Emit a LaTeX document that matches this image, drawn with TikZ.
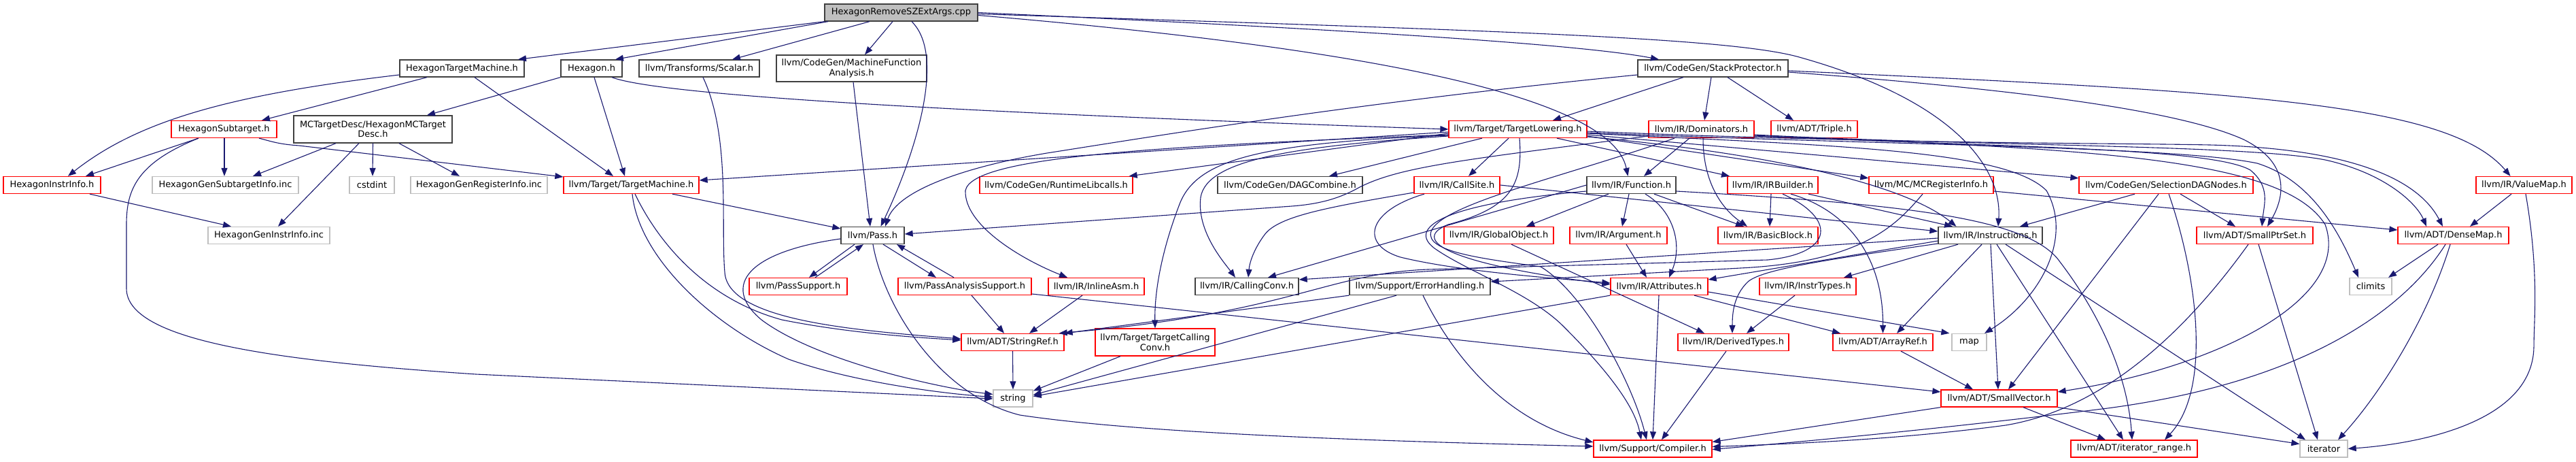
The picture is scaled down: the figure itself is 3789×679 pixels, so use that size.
\documentclass[tikz,border=0pt]{standalone}
\usepackage{fontspec}
\setmainfont{DejaVu Sans}
\usetikzlibrary{arrows.meta}
\definecolor{edgec}{HTML}{191970}
\definecolor{bordk}{HTML}{404040}
\definecolor{bordg}{HTML}{BFBFBF}
\definecolor{rootf}{HTML}{BFBFBF}
\tikzset{
  box/.style={rectangle, inner sep=0pt, line width=1.3pt, align=center,
    font=\fontsize{13}{14.5}\selectfont, minimum height=25},
  rbox/.style={box, draw=red},
  kbox/.style={box, draw=bordk},
  gbox/.style={box, draw=bordg},
  rootbox/.style={box, draw=bordk, fill=rootf},
  e/.style={draw=edgec, line width=1.1pt, -{Triangle[length=12pt,width=9pt]}}
}
\begin{document}
\begin{tikzpicture}[x=1pt,y=-1pt]
\useasboundingbox (0,0) rectangle (3789,679);
\fill[white] (0,0) rectangle (3789,679);
% row 0
\node[rootbox, minimum width=225] (root) at (1325.5,18.5) {HexagonRemoveSZExtArgs.cpp};
% row 1
\node[kbox, minimum width=183] (htm) at (679.5,100.5) {HexagonTargetMachine.h};
\node[kbox, minimum width=90] (hex) at (870,100.5) {Hexagon.h};
\node[kbox, minimum width=177] (scalar) at (1028.5,100.5) {llvm/Transforms/Scalar.h};
\node[kbox, minimum width=221, minimum height=39] (mfa) at (1252.5,100.5) {llvm/CodeGen/MachineFunction\\Analysis.h};
\node[kbox, minimum width=221] (stackp) at (2519.5,100.5) {llvm/CodeGen/StackProtector.h};
% row 2
\node[rbox, minimum width=155] (subt) at (329.5,190) {HexagonSubtarget.h};
\node[kbox, minimum width=233, minimum height=40] (mctd) at (548.5,190) {MCTargetDesc/HexagonMCTarget\\Desc.h};
\node[rbox, minimum width=203] (tl) at (2232.5,190) {llvm/Target/TargetLowering.h};
\node[rbox, minimum width=155] (dom) at (2502.5,190) {llvm/IR/Dominators.h};
\node[rbox, minimum width=127] (triple) at (2668.5,190) {llvm/ADT/Triple.h};
% row 3
\node[rbox, minimum width=143] (instrinfo) at (76.5,272) {HexagonInstrInfo.h};
\node[gbox, minimum width=215] (gensub) at (331.5,272) {HexagonGenSubtargetInfo.inc};
\node[gbox, minimum width=66] (cstdint) at (547,272) {cstdint};
\node[gbox, minimum width=201] (genreg) at (704.5,272) {HexagonGenRegisterInfo.inc};
\node[rbox, minimum width=199] (tm) at (928.5,272) {llvm/Target/TargetMachine.h};
\node[rbox, minimum width=225] (rtlib) at (1553.5,272) {llvm/CodeGen/RuntimeLibcalls.h};
\node[kbox, minimum width=213] (dag) at (1897.5,272) {llvm/CodeGen/DAGCombine.h};
\node[rbox, minimum width=126] (callsite) at (2143,272) {llvm/IR/CallSite.h};
\node[kbox, minimum width=131] (func) at (2399.5,272) {llvm/IR/Function.h};
\node[rbox, minimum width=133] (irb) at (2607.5,272) {llvm/IR/IRBuilder.h};
\node[rbox, minimum width=183] (mcreg) at (2840.5,272) {llvm/MC/MCRegisterInfo.h};
\node[rbox, minimum width=256] (sdn) at (3186,272) {llvm/CodeGen/SelectionDAGNodes.h};
\node[rbox, minimum width=141] (valuemap) at (3712.5,272) {llvm/IR/ValueMap.h};
% row 4
\node[gbox, minimum width=179] (geninstr) at (395.5,346) {HexagonGenInstrInfo.inc};
\node[kbox, minimum width=93] (pass) at (1283.5,346) {llvm/Pass.h};
\node[rbox, minimum width=161] (globobj) at (2204.5,346) {llvm/IR/GlobalObject.h};
\node[rbox, minimum width=143] (arg) at (2380.5,346) {llvm/IR/Argument.h};
\node[rbox, minimum width=147] (bb) at (2600.5,346) {llvm/IR/BasicBlock.h};
\node[kbox, minimum width=153] (instr) at (2927.5,346) {llvm/IR/Instructions.h};
\node[rbox, minimum width=171] (sptr) at (3316.5,346) {llvm/ADT/SmallPtrSet.h};
\node[rbox, minimum width=163] (dmap) at (3608.5,346) {llvm/ADT/DenseMap.h};
% row 5
\node[rbox, minimum width=144] (psupport) at (1174,421) {llvm/PassSupport.h};
\node[rbox, minimum width=196] (pas) at (1419,421) {llvm/PassAnalysisSupport.h};
\node[rbox, minimum width=141] (inlineasm) at (1612.5,421) {llvm/IR/InlineAsm.h};
\node[kbox, minimum width=152] (cc) at (1834,421) {llvm/IR/CallingConv.h};
\node[kbox, minimum width=207] (eh) at (2088.5,421) {llvm/Support/ErrorHandling.h};
\node[rbox, minimum width=143] (attr) at (2440.5,421) {llvm/IR/Attributes.h};
\node[rbox, minimum width=142] (instrtypes) at (2659,421) {llvm/IR/InstrTypes.h};
\node[gbox, minimum width=62] (climits) at (3487,421) {climits};
% row 6
\node[rbox, minimum width=151] (strref) at (1489.5,503) {llvm/ADT/StringRef.h};
\node[rbox, minimum width=176, minimum height=40] (tcc) at (1699,503) {llvm/Target/TargetCalling\\Conv.h};
\node[rbox, minimum width=163] (derived) at (2549.5,503) {llvm/IR/DerivedTypes.h};
\node[rbox, minimum width=147] (arrayref) at (2769.5,503) {llvm/ADT/ArrayRef.h};
\node[gbox, minimum width=51] (map) at (2896.5,503) {map};
% row 7
\node[gbox, minimum width=58] (string) at (1490,585.5) {string};
\node[rbox, minimum width=171] (smallvec) at (2940.5,585.5) {llvm/ADT/SmallVector.h};
% row 8
\node[rbox, minimum width=174] (compiler) at (2431,659.5) {llvm/Support/Compiler.h};
\node[rbox, minimum width=186] (iterrange) at (3139,659.5) {llvm/ADT/iterator\_range.h};
\node[gbox, minimum width=70] (iterator) at (3418,659.5) {iterator};

% ---- edges from root
\draw[e] (root.south west) -- ([xshift=82.5]htm.north);
\draw[e] ([xshift=-107.5]root.south) -- ([xshift=35]hex.north);
\draw[e] ([xshift=-46.5]root.south) -- ([xshift=48.5]scalar.north);
\draw[e] ([xshift=-12.5]root.south) -- ([xshift=19.5]mfa.north);
\draw[e] ([xshift=15.5]root.south) .. controls (1395,85) and (1340,240) .. ([xshift=12]pass.north);
\draw[e] (root.east) .. controls (1800,35) and (2300,60) .. ([xshift=-79.5]stackp.north);
\draw[e] ([yshift=-4]root.east) .. controls (2000,70) and (2370,140) .. ([xshift=-5]func.north);
\draw[e] ([yshift=-2]root.east) .. controls (2200,45) and (2550,55) .. (2650,85) .. controls (2880,150) and (2945,250) .. ([xshift=11.5]instr.north);
% ---- HexagonTargetMachine.h
\draw[e] ([yshift=-9.5]htm.west) .. controls (330,140) and (200,180) .. ([xshift=23.5]instrinfo.north);
\draw[e] ([xshift=-51.5]htm.south) -- ([xshift=55.5]subt.north);
\draw[e] ([xshift=18.5]htm.south) -- ([xshift=-26.5]tm.north);
% ---- Hexagon.h
\draw[e] (hex.south west) -- ([xshift=79.5]mctd.north);
\draw[e] ([xshift=4]hex.south) -- ([xshift=-9.5]tm.north);
\draw[e] ([xshift=30]hex.south) .. controls (970,140) and (1400,165) .. (tl.west);
% ---- Scalar.h, MFA
\draw[e] ([xshift=5.5]scalar.south) .. controls (1075,200) and (1060,330) .. (1066,400) .. controls (1070,470) and (1250,485) .. ([yshift=5]strref.west);
\draw[e] ([xshift=2.5]mfa.south) -- ([xshift=-3.5]pass.north);
% ---- StackProtector.h
\draw[e] ([xshift=-43.5]stackp.south) -- ([xshift=51.5]tl.north);
\draw[e] ([xshift=-2.5]stackp.south) -- ([xshift=4.5]dom.north);
\draw[e] ([xshift=21.5]stackp.south) -- ([xshift=-30.5]triple.north);
\draw[e] ([yshift=-9.5]stackp.west) .. controls (2000,150) and (1700,200) .. (1540,225) .. controls (1420,245) and (1320,280) .. ([xshift=18.5]pass.north);
\draw[e] ([yshift=-3.5]stackp.east) .. controls (3300,135) and (3600,150) .. ([xshift=-20]valuemap.north);
\draw[e] ([yshift=-5.5]stackp.east) .. controls (2950,130) and (3200,160) .. (3300,205) .. controls (3370,240) and (3360,290) .. ([xshift=18.5]sptr.north);
% ---- HexagonSubtarget.h
\draw[e] ([xshift=-37.5]subt.south) -- ([xshift=49.5]instrinfo.north);
\draw[e] ([xshift=0.5]subt.south) -- ([xshift=-1.5]gensub.north);
\draw[e] ([xshift=-37.5]subt.south) .. controls (200,240) and (186,280) .. (186,330) -- (186,424) .. controls (186,500) and (400,530) .. (700,550) -- ([yshift=-0.5]string.west);
\draw[e] ([xshift=51.5]subt.south) .. controls (400,208) and (410,212) .. (440,214) -- ([yshift=12]tm.west);
% ---- MCTargetDesc
\draw[e] ([xshift=-54.5]mctd.south) -- ([xshift=40.5]gensub.north);
\draw[e] ([xshift=-20.5]mctd.south) -- ([xshift=13.5]geninstr.north);
\draw[e] (mctd.south) -- ([xshift=1]cstdint.north);
\draw[e] ([xshift=38.5]mctd.south) -- ([xshift=-28.5]genreg.north);
\draw[e] ([xshift=55.5]instrinfo.south) -- ([xshift=-55.5]geninstr.north);
% ---- TargetLowering.h
\draw[e] ([yshift=-4]tl.west) -- ([yshift=7]tm.east);
\draw[e] ([yshift=-6]tl.west) -- ([xshift=-6]rtlib.north east);
\draw[e] ([xshift=-52.5]tl.south) -- ([xshift=57.5]dag.north);
\draw[e] ([xshift=-13.5]tl.south) -- ([xshift=17]callsite.north);
\draw[e] ([yshift=-8]tl.west) .. controls (1700,215) and (1430,230) .. (1420,280) .. controls (1418,330) and (1500,380) .. ([xshift=-42.5]inlineasm.north);
\draw[e] ([yshift=-10]tl.west) .. controls (1900,215) and (1775,235) .. (1766,290) .. controls (1760,340) and (1800,385) .. ([xshift=-17]cc.north);
\draw[e] ([yshift=-9]tl.west) .. controls (1850,210) and (1760,235) .. (1735,300) .. controls (1708,370) and (1698,430) .. (tcc.north);
\draw[e] ([xshift=2.5]tl.south) .. controls (2240,270) and (2225,305) .. (2130,330) .. controls (2080,350) and (2110,385) .. ([yshift=3]attr.west);
\draw[e] ([xshift=57.5]tl.south) -- ([xshift=-63.5]irb.north);
\draw[e] ([yshift=-10]tl.east) -- ([yshift=-3]mcreg.north west);
\draw[e] ([yshift=-8]tl.east) -- ([yshift=-3]sdn.north west);
\draw[e] ([yshift=-3]tl.east) .. controls (2800,212) and (3100,210) .. (3250,213) .. controls (3450,218) and (3555,260) .. ([xshift=-15.5]dmap.north);
\draw[e] ([yshift=-5]tl.east) .. controls (2800,214) and (3200,215) .. (3320,240) .. controls (3400,265) and (3440,340) .. ([xshift=-18]climits.north);
\draw[e] ([yshift=-6]tl.east) .. controls (2700,214) and (2950,220) .. (3010,280) .. controls (3050,350) and (3000,440) .. ([xshift=22.5]map.north);
\draw[e] ([yshift=-11]tl.east) .. controls (2600,225) and (2800,270) .. ([xshift=-50]instr.north);
% ---- Dominators.h
\draw[e] ([xshift=-17.5]dom.south) -- ([xshift=18.5]func.north);
\draw[e] ([xshift=2.5]dom.south) .. controls (2505,265) and (2530,305) .. ([xshift=-30.5]bb.north);
\draw[e] ([yshift=-10]dom.west) .. controls (2150,235) and (2060,245) .. (2000,275) .. controls (1970,292) and (1940,300) .. (1900,303) -- ([yshift=2]pass.east);
\draw[e] ([yshift=-8]dom.east) .. controls (2900,215) and (3300,212) .. (3420,235) .. controls (3510,255) and (3555,300) .. ([xshift=-39.5]dmap.north);
\draw[e] ([yshift=-9]dom.east) .. controls (2900,216) and (3250,215) .. (3310,250) .. controls (3340,275) and (3330,300) .. ([xshift=10.5]sptr.north);
\draw[e] ([yshift=-10]dom.east) .. controls (3100,218) and (3360,235) .. (3420,330) .. controls (3460,440) and (3260,540) .. ([yshift=9.5]smallvec.east);
\draw[e] ([xshift=-39.5]dom.south) .. controls (2300,260) and (2120,300) .. (2105,340) .. controls (2095,370) and (2180,380) .. (2266,392) .. controls (2330,430) and (2400,560) .. ([xshift=-9]compiler.north);
% ---- Function.h
\draw[e] ([xshift=-33.5]func.south) -- ([xshift=40.5]globobj.north);
\draw[e] ([xshift=-3.5]func.south) -- ([xshift=5.5]arg.north);
\draw[e] ([xshift=20.5]func.south) .. controls (2462,310) and (2475,360) .. ([xshift=14.5]attr.north);
\draw[e] ([xshift=33.5]func.south) -- ([xshift=-35.5]bb.north);
\draw[e] (func.west) -- ([xshift=31]cc.north);
\draw[e] ([yshift=-9]func.west) .. controls (2120,300) and (2070,335) .. (2110,365) .. controls (2160,400) and (2250,430) .. (2300,480) .. controls (2370,550) and (2405,600) .. ([xshift=-17]compiler.north);
\draw[e] ([yshift=-9]func.east) .. controls (2800,300) and (2985,320) .. (3030,385) .. controls (3095,470) and (3130,560) .. ([xshift=-3]iterrange.north);
% ---- CallSite.h
\draw[e] ([yshift=-11]callsite.west) .. controls (1950,305) and (1880,318) .. (1860,345) .. controls (1845,365) and (1838,385) .. ([xshift=2]cc.north);
\draw[e] ([xshift=-48]callsite.south) .. controls (2010,310) and (2000,360) .. (2060,378) .. controls (2150,400) and (2300,410) .. ([yshift=5]attr.west);
\draw[e] (callsite.east) -- ([yshift=6]instr.west);
% ---- IRBuilder.h
\draw[e] ([xshift=-2.5]irb.south) -- ([xshift=2.5]bb.north);
\draw[e] ([xshift=52.5]irb.south) -- ([xshift=-55.5]instr.north);
\draw[e] ([xshift=26.5]irb.south) .. controls (2720,310) and (2770,380) .. (arrayref.north);
\draw[e] ([xshift=14.5]irb.south) .. controls (2700,320) and (2700,372) .. (2600,382) -- (2100,396) .. controls (1950,402) and (1900,460) .. ([xshift=-8]strref.north east);
% ---- MCRegisterInfo.h
\draw[e] ([yshift=-9]mcreg.east) -- ([yshift=8]dmap.west);
\draw[e] ([xshift=-12.5]mcreg.south) .. controls (2790,330) and (2740,385) .. (2560,394) -- ([yshift=7]eh.east);
% ---- SelectionDAGNodes.h
\draw[e] ([xshift=-46]sdn.south) -- ([xshift=43.5]instr.north);
\draw[e] ([xshift=-11]sdn.south) -- ([xshift=13.5]smallvec.north);
\draw[e] ([xshift=4]sdn.south) .. controls (3230,400) and (3255,570) .. ([xshift=45]iterrange.north);
\draw[e] ([xshift=21]sdn.south) -- ([xshift=-28.5]sptr.north);
% ---- ValueMap.h
\draw[e] ([xshift=-18.5]valuemap.south) -- ([xshift=24.5]dmap.north);
\draw[e] ([xshift=2.5]valuemap.south) .. controls (3735,400) and (3727,470) .. (3727,510) .. controls (3725,620) and (3560,652) .. (iterator.east);
% ---- Instructions.h
\draw[e] ([yshift=-4]instr.west) -- ([yshift=10]cc.east);
\draw[e] ([yshift=-8]instr.west) -- ([yshift=10]attr.east);
\draw[e] ([yshift=-12]instr.west) .. controls (2700,380) and (2590,395) .. (2570,415) .. controls (2550,435) and (2548,460) .. ([xshift=-1.5]derived.north);
\draw[e] ([xshift=-47.5]instr.south) -- ([xshift=53]instrtypes.north);
\draw[e] ([xshift=-12.5]instr.south) -- ([xshift=20.5]arrayref.north);
\draw[e] ([xshift=0.5]instr.south) -- ([xshift=-1.5]smallvec.north);
\draw[e] ([xshift=9.5]instr.south) -- ([xshift=-16]iterrange.north);
\draw[e] ([xshift=22.5]instr.south) -- ([xshift=-27]iterator.north);
% ---- Attributes.h
\draw[e] ([xshift=-0.5]attr.south) -- (compiler.north);
\draw[e] ([xshift=51.5]attr.south) -- ([xshift=-62.5]arrayref.north);
\draw[e] ([yshift=-8]attr.east) -- ([xshift=-3]map.north west);
\draw[e] (attr.south west) -- ([yshift=3]string.east);
% ---- ErrorHandling.h
\draw[e] ([xshift=-34.5]eh.south) -- ([yshift=5]string.east);
\draw[e] ([xshift=4.5]eh.south) .. controls (2140,530) and (2220,620) .. ([yshift=9.5]compiler.west);
\draw[e] (eh.south west) -- (strref.north east);
% ---- misc
\draw[e] ([xshift=11.5]arg.south) -- ([xshift=-18.5]attr.north);
\draw[e] ([xshift=18.5]globobj.south) -- ([xshift=-42.5]derived.north);
\draw[e] ([xshift=-19]instrtypes.south) -- ([xshift=19.5]derived.north);
\draw[e] ([xshift=-10.5]derived.south) -- ([xshift=13]compiler.north);
\draw[e] ([xshift=26.5]arrayref.south) -- ([xshift=-38.5]smallvec.north);
% ---- SmallVector.h
\draw[e] (smallvec.south west) -- ([yshift=10]compiler.east);
\draw[e] ([xshift=35.5]smallvec.south) -- ([xshift=-42]iterrange.north);
\draw[e] (smallvec.south east) -- ([yshift=7]iterator.west);
% ---- SmallPtrSet.h, DenseMap.h
\draw[e] ([xshift=5.5]sptr.south) -- ([xshift=-9]iterator.north);
\draw[e] ([xshift=-9.5]sptr.south) .. controls (3220,480) and (3100,600) .. (2950,625) .. controls (2800,645) and (2650,652) .. ([yshift=3]compiler.east);
\draw[e] ([xshift=-22.5]dmap.south) -- ([xshift=26]climits.north);
\draw[e] ([xshift=-4.5]dmap.south) .. controls (3570,470) and (3500,580) .. ([xshift=21]iterator.north);
\draw[e] ([xshift=-11.5]dmap.south) .. controls (3540,450) and (3400,560) .. (3100,600) .. controls (2900,625) and (2700,645) .. ([yshift=-1]compiler.east);
% ---- TargetMachine.h
\draw[e] ([xshift=60.5]tm.south) -- ([yshift=10]pass.west);
\draw[e] ([xshift=5.5]tm.south) .. controls (970,360) and (1040,440) .. (1150,470) .. controls (1250,490) and (1350,496) .. ([yshift=3]strref.west);
\draw[e] ([xshift=1.5]tm.south) .. controls (940,380) and (1050,480) .. (1160,528) .. controls (1250,560) and (1380,578) .. ([yshift=2]string.west);
% ---- Pass.h and friends
\draw[e] ([xshift=-26.5]pass.south) -- ([xshift=16]psupport.north);
\draw[e] ([xshift=25]psupport.north) -- ([xshift=-13.5]pass.south);
\draw[e] ([xshift=15.5]pass.south) -- ([xshift=-42]pas.north);
\draw[e] ([xshift=-16]pas.north) -- ([xshift=35.5]pass.south);
\draw[e] ([yshift=-5]pass.west) .. controls (1100,370) and (1060,420) .. (1120,470) .. controls (1200,530) and (1380,570) .. ([yshift=6]string.west);
\draw[e] ([xshift=0.5]pass.south) .. controls (1300,450) and (1380,580) .. (1500,610) .. controls (1700,640) and (2100,650) .. ([yshift=3.5]compiler.west);
\draw[e] ([xshift=10]pas.south) -- ([xshift=-12.5]strref.north);
\draw[e] ([yshift=-11]pas.east) -- ([yshift=9.5]smallvec.west);
\draw[e] ([xshift=-20.5]inlineasm.south) -- ([xshift=24.5]strref.north);
\draw[e] ([xshift=-51]tcc.south) -- ([yshift=11]string.east);
\draw[e] (strref.south) -- (string.north);
\end{tikzpicture}
\end{document}
